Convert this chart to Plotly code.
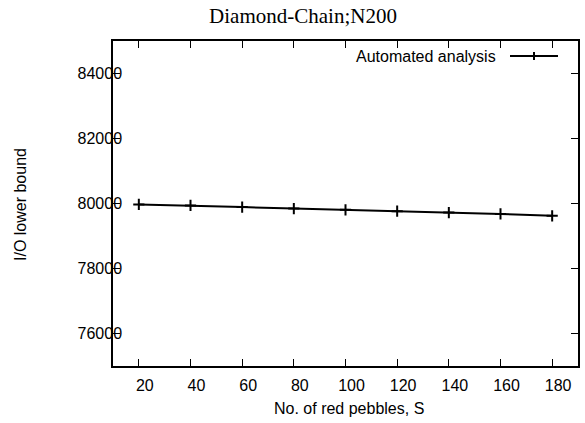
import plotly.graph_objects as go

# Data
red_pebbles = [20, 40, 60, 80, 100, 120, 140, 160, 180]
io_lower_bound = [79970, 79940, 79890, 79845, 79805, 79765, 79720, 79680, 79620]
series_name = "Automated analysis"

x_tickvals = [20, 40, 60, 80, 100, 120, 140, 160, 180]
y_tickvals = [76000, 78000, 80000, 82000, 84000]
y_ticktext = ["76000", "78000", "80000", "82000", "84000"]

W, H = 585, 423
L, R, T, B = 113, 7, 41, 57
PW, PH = W - L - R, H - T - B

def px(xp):
    return (xp - L) / PW

def py(yp):
    return (H - B - yp) / PH

fig = go.Figure()
fig.add_trace(go.Scatter(
    x=red_pebbles, y=io_lower_bound, mode="lines+markers", name=series_name,
    line=dict(color="black", width=2),
    marker=dict(symbol="cross-thin", size=8, line=dict(color="black", width=2)),
    showlegend=False,
))

sans = "Liberation Sans, Arial, sans-serif"
axis_common = dict(
    showline=True, linecolor="black", linewidth=1.5, mirror="ticks",
    ticks="inside", ticklen=7, tickwidth=1, tickcolor="black",
    showgrid=False, zeroline=False,
    tickfont=dict(family=sans, size=16, color="black"),
)

fig.update_layout(
    width=W, height=H,
    margin=dict(l=L, r=R, t=T, b=B, autoexpand=False),
    paper_bgcolor="white", plot_bgcolor="white",
    title=dict(text="Diamond-Chain;N200", x=303 / W, xanchor="center",
               y=1 - 15.5 / H, yanchor="middle",
               font=dict(family="Liberation Serif, Times New Roman, serif", size=21, color="black")),
    xaxis=dict(range=[10, 190], tickvals=x_tickvals, ticklabelshift=6,
               ticklabelstandoff=4, **axis_common),
    yaxis=dict(range=[75000, 85000], tickvals=y_tickvals, ticktext=y_ticktext,
               ticklabelstandoff=-14, **axis_common),
    annotations=[
        dict(text="No. of red pebbles, S", xref="paper", yref="paper",
             x=px(349), y=py(408), xanchor="center", yanchor="middle", showarrow=False,
             font=dict(family=sans, size=16, color="black")),
        dict(text="I/O lower bound", xref="paper", yref="paper", textangle=-90,
             x=px(20), y=py(205), xanchor="center", yanchor="middle", showarrow=False,
             font=dict(family=sans, size=16, color="black")),
        dict(text=series_name, xref="paper", yref="paper",
             x=px(498), y=py(57), xanchor="right", yanchor="middle", showarrow=False,
             font=dict(family=sans, size=16, color="black")),
    ],
    shapes=[
        dict(type="line", xref="paper", yref="paper", x0=px(510), x1=px(558),
             y0=py(56), y1=py(56), line=dict(color="black", width=2)),
        dict(type="line", xref="paper", yref="paper", x0=px(534), x1=px(534),
             y0=py(52), y1=py(60), line=dict(color="black", width=2)),
    ],
)

fig.write_html("out.html")
